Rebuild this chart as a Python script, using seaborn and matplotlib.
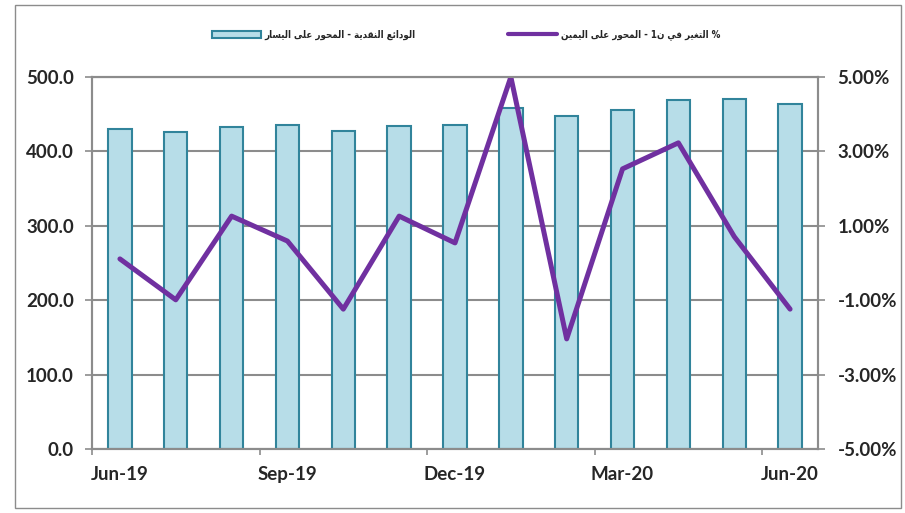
import numpy as np
import pandas as pd
import seaborn as sns
import matplotlib.pyplot as plt
from matplotlib.patches import Patch, Rectangle
from matplotlib.lines import Line2D

# data
months = ['Jun-19', 'Jul-19', 'Aug-19', 'Sep-19', 'Oct-19', 'Nov-19', 'Dec-19',
          'Jan-20', 'Feb-20', 'Mar-20', 'Apr-20', 'May-20', 'Jun-20']
deposits = [430, 426, 433, 435, 428, 434, 436, 459, 447, 456, 469, 470, 464]
change_pct = [0.11, -0.99, 1.26, 0.59, -1.24, 1.26, 0.54, 5.0, -2.04, 2.53, 3.23, 0.71, -1.24]
left_ticks = [0, 100, 200, 300, 400, 500]
right_ticks = [-5, -3, -1, 1, 3, 5]
label_months = ['Jun-19', 'Sep-19', 'Dec-19', 'Mar-20', 'Jun-20']
bar_label = 'الودائع النقدية - المحور على اليسار'
line_label = '% التغير في ن1 - المحور على اليمين'

# matplotlib has no arabic shaping, so map letters to presentation forms
FORMS = {'ا': (0xFE8D, False), 'ل': (0xFEDD, True), 'و': (0xFEED, False),
         'د': (0xFEA9, False), 'ئ': (0xFE89, True), 'ع': (0xFEC9, True),
         'ن': (0xFEE5, True), 'ق': (0xFED5, True), 'ي': (0xFEF1, True),
         'ة': (0xFE93, False), 'م': (0xFEE1, True), 'ح': (0xFEA1, True),
         'ر': (0xFEAD, False), 'ى': (0xFEEF, False), 'س': (0xFEB1, True),
         'ت': (0xFE95, True), 'غ': (0xFECD, True), 'ف': (0xFED1, True)}


def shape(s):
    out = []
    for i, c in enumerate(s):
        if c not in FORMS:
            out.append(c)
            continue
        base, dual = FORMS[c]
        prev = s[i - 1] if i > 0 else ''
        nxt = s[i + 1] if i + 1 < len(s) else ''
        jp = prev in FORMS and FORMS[prev][1]
        jn = dual and nxt in FORMS
        off = 3 if (jp and jn) else 1 if jp else 2 if jn else 0
        out.append(chr(base + off))
    return ''.join(out)[::-1]


sns.set_style('white')
plt.rcParams['font.family'] = ['Lato', 'DejaVu Sans']

grey = '#8C8C8C'
df = pd.DataFrame({'month': months, 'deposits': deposits})

fig = plt.figure(figsize=(9.05, 5.13), dpi=100)
ax = fig.add_axes([92 / 905, 64 / 513, 726 / 905, 372 / 513])

sns.barplot(data=df, x='month', y='deposits', order=months, ax=ax, color='#B7DDE8',
            edgecolor='#31849B', linewidth=1.5, width=0.42, saturation=1)
ax.set_axisbelow(True)
ax.set_ylim(0, 500)
ax.set_yticks(left_ticks)
ax.set_yticklabels([f'{v:.1f}' for v in left_ticks])
ax.yaxis.grid(True, color=grey, linewidth=1.5)
ax.set_xlim(-0.5, 12.5)
ax.set_xticks([-0.5, 2.5, 5.5, 8.5, 11.5])
ax.set_xticklabels([])
ax.set_xticks([months.index(m) for m in label_months], minor=True)
ax.set_xticklabels(label_months, minor=True)
ax.set_xlabel('')
ax.set_ylabel('')
ax.tick_params(axis='x', which='major', length=4, width=1.2, color=grey, direction='out', bottom=True)
ax.tick_params(axis='x', which='minor', length=0, pad=12, labelsize=13.5)
ax.tick_params(axis='y', length=5, width=1.2, color=grey, pad=8, labelsize=13.5, left=True)
for lab in ax.get_xticklabels(minor=True) + ax.get_yticklabels():
    lab.set_fontweight('bold')

ax2 = ax.twinx()
sns.lineplot(x=np.arange(len(months)), y=change_pct, ax=ax2, color='#7030A0', linewidth=3.6)
ax2.set_ylim(-5, 5)
ax2.set_yticks(right_ticks)
ax2.set_yticklabels([f'{v:.2f}%' for v in right_ticks])
ax2.set_xlim(-0.5, 12.5)
ax2.set_ylabel('')
ax2.tick_params(axis='y', length=5, width=1.2, color=grey, pad=9, labelsize=13.5, right=True)
for lab in ax2.get_yticklabels():
    lab.set_fontweight('bold')

for a in (ax, ax2):
    for sp in a.spines.values():
        sp.set_color(grey)
        sp.set_linewidth(1.5)

handles = [Patch(facecolor='#B7DDE8', edgecolor='#31849B', linewidth=1.5),
           Line2D([], [], color='#7030A0', linewidth=3)]
fig.legend(handles, [shape(bar_label), shape(line_label)], ncol=2, loc='center',
           bbox_to_anchor=(466 / 905, 1 - 35 / 513), frameon=False,
           prop={'family': 'DejaVu Sans', 'weight': 'bold', 'size': 7, 'stretch': 'condensed'},
           handlelength=5, handleheight=0.7, handletextpad=0.4, columnspacing=9.5)

fig.add_artist(Rectangle((15 / 905, 5 / 513), 886 / 905, 503 / 513, transform=fig.transFigure,
                         fill=False, edgecolor=grey, linewidth=1))

fig.savefig('out.png', dpi=100)
